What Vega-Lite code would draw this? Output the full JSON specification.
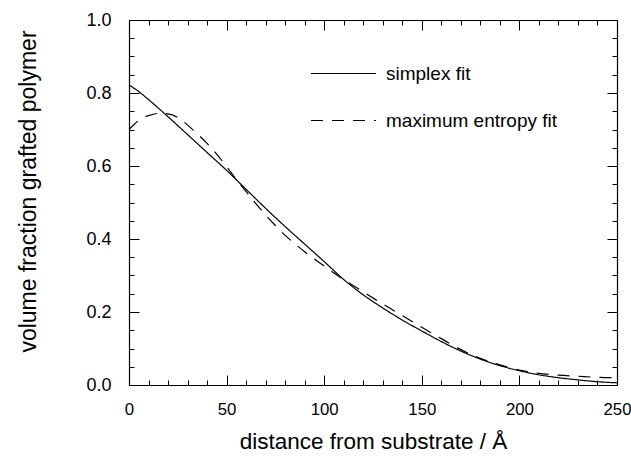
{
  "$schema": "https://vega.github.io/schema/vega-lite/v6.json",
  "width": 488,
  "height": 365,
  "autosize": "none",
  "padding": {"left": 129, "top": 20, "right": 14, "bottom": 71},
  "background": "white",
  "config": {
    "view": {"stroke": null},
    "font": "Liberation Sans",
    "axis": {
      "domainColor": "black",
      "domainWidth": 1.2,
      "tickColor": "black",
      "tickWidth": 1,
      "grid": false,
      "labelColor": "black",
      "labelFontSize": 18,
      "labelFont": "Liberation Sans",
      "titleColor": "black",
      "titleFont": "Liberation Sans",
      "titleFontSize": 22.5,
      "titleFontWeight": "normal"
    }
  },
  "data": {
    "values": [
      {"d": 0, "v": 0.822, "fit": "simplex fit"},
      {"d": 5, "v": 0.804, "fit": "simplex fit"},
      {"d": 10, "v": 0.782, "fit": "simplex fit"},
      {"d": 20, "v": 0.735, "fit": "simplex fit"},
      {"d": 30, "v": 0.686, "fit": "simplex fit"},
      {"d": 40, "v": 0.637, "fit": "simplex fit"},
      {"d": 50, "v": 0.588, "fit": "simplex fit"},
      {"d": 60, "v": 0.536, "fit": "simplex fit"},
      {"d": 70, "v": 0.484, "fit": "simplex fit"},
      {"d": 80, "v": 0.434, "fit": "simplex fit"},
      {"d": 90, "v": 0.386, "fit": "simplex fit"},
      {"d": 100, "v": 0.338, "fit": "simplex fit"},
      {"d": 110, "v": 0.289, "fit": "simplex fit"},
      {"d": 120, "v": 0.247, "fit": "simplex fit"},
      {"d": 130, "v": 0.211, "fit": "simplex fit"},
      {"d": 140, "v": 0.178, "fit": "simplex fit"},
      {"d": 150, "v": 0.148, "fit": "simplex fit"},
      {"d": 160, "v": 0.119, "fit": "simplex fit"},
      {"d": 170, "v": 0.093, "fit": "simplex fit"},
      {"d": 180, "v": 0.071, "fit": "simplex fit"},
      {"d": 190, "v": 0.053, "fit": "simplex fit"},
      {"d": 200, "v": 0.039, "fit": "simplex fit"},
      {"d": 210, "v": 0.028, "fit": "simplex fit"},
      {"d": 220, "v": 0.020, "fit": "simplex fit"},
      {"d": 230, "v": 0.014, "fit": "simplex fit"},
      {"d": 240, "v": 0.009, "fit": "simplex fit"},
      {"d": 250, "v": 0.006, "fit": "simplex fit"},
      {"d": 0, "v": 0.700, "fit": "maximum entropy fit"},
      {"d": 5, "v": 0.725, "fit": "maximum entropy fit"},
      {"d": 10, "v": 0.738, "fit": "maximum entropy fit"},
      {"d": 15, "v": 0.744, "fit": "maximum entropy fit"},
      {"d": 20, "v": 0.743, "fit": "maximum entropy fit"},
      {"d": 25, "v": 0.733, "fit": "maximum entropy fit"},
      {"d": 30, "v": 0.712, "fit": "maximum entropy fit"},
      {"d": 35, "v": 0.688, "fit": "maximum entropy fit"},
      {"d": 40, "v": 0.662, "fit": "maximum entropy fit"},
      {"d": 45, "v": 0.632, "fit": "maximum entropy fit"},
      {"d": 50, "v": 0.598, "fit": "maximum entropy fit"},
      {"d": 55, "v": 0.563, "fit": "maximum entropy fit"},
      {"d": 60, "v": 0.530, "fit": "maximum entropy fit"},
      {"d": 65, "v": 0.497, "fit": "maximum entropy fit"},
      {"d": 70, "v": 0.466, "fit": "maximum entropy fit"},
      {"d": 75, "v": 0.437, "fit": "maximum entropy fit"},
      {"d": 80, "v": 0.410, "fit": "maximum entropy fit"},
      {"d": 85, "v": 0.387, "fit": "maximum entropy fit"},
      {"d": 90, "v": 0.365, "fit": "maximum entropy fit"},
      {"d": 95, "v": 0.345, "fit": "maximum entropy fit"},
      {"d": 100, "v": 0.326, "fit": "maximum entropy fit"},
      {"d": 105, "v": 0.307, "fit": "maximum entropy fit"},
      {"d": 110, "v": 0.289, "fit": "maximum entropy fit"},
      {"d": 115, "v": 0.272, "fit": "maximum entropy fit"},
      {"d": 120, "v": 0.255, "fit": "maximum entropy fit"},
      {"d": 130, "v": 0.222, "fit": "maximum entropy fit"},
      {"d": 140, "v": 0.190, "fit": "maximum entropy fit"},
      {"d": 150, "v": 0.158, "fit": "maximum entropy fit"},
      {"d": 160, "v": 0.127, "fit": "maximum entropy fit"},
      {"d": 170, "v": 0.097, "fit": "maximum entropy fit"},
      {"d": 180, "v": 0.073, "fit": "maximum entropy fit"},
      {"d": 190, "v": 0.055, "fit": "maximum entropy fit"},
      {"d": 200, "v": 0.041, "fit": "maximum entropy fit"},
      {"d": 210, "v": 0.032, "fit": "maximum entropy fit"},
      {"d": 220, "v": 0.027, "fit": "maximum entropy fit"},
      {"d": 230, "v": 0.024, "fit": "maximum entropy fit"},
      {"d": 240, "v": 0.021, "fit": "maximum entropy fit"},
      {"d": 250, "v": 0.020, "fit": "maximum entropy fit"}
    ]
  },
  "layer": [
    {
      "mark": {"type": "line", "color": "black", "strokeWidth": 1.2, "interpolate": "monotone"},
      "encoding": {
        "x": {
          "field": "d", "type": "quantitative",
          "scale": {"domain": [0, 250], "nice": false, "zero": false},
          "axis": {
            "orient": "bottom",
            "title": "distance from substrate / Å",
            "values": [0,10,20,30,40,50,60,70,80,90,100,110,120,130,140,150,160,170,180,190,200,210,220,230,240,250],
            "labelExpr": "datum.value % 50 === 0 ? format(datum.value, 'd') : ''",
            "tickSize": {"condition": {"test": "datum.value % 50 === 0", "value": -10}, "value": -5},
            "labelFontSize": 16.8,
            "labelPadding": 26,
            "labelFlush": false,
            "labelOverlap": false,
            "titleBaseline": "middle",
            "titleY": 56
          }
        },
        "y": {
          "field": "v", "type": "quantitative",
          "scale": {"domain": [0, 1], "nice": false},
          "axis": {
            "orient": "left",
            "title": "volume fraction grafted polymer",
            "values": [0,0.05,0.1,0.15,0.2,0.25,0.3,0.35,0.4,0.45,0.5,0.55,0.6,0.65,0.7,0.75,0.8,0.85,0.9,0.95,1.0],
            "labelExpr": "abs(datum.value*5 - round(datum.value*5)) < 0.000001 ? format(datum.value, '.1f') : ''",
            "tickSize": {"condition": {"test": "abs(datum.value*5 - round(datum.value*5)) < 0.000001", "value": -10}, "value": -5},
            "labelPadding": 28,
            "labelFlush": false,
            "labelOverlap": false,
            "titleAngle": -90,
            "titleFontSize": 23,
            "titleBaseline": "middle",
            "titleAlign": "center",
            "titleX": -101,
            "titleY": 171
          }
        },
        "strokeDash": {
          "field": "fit", "type": "nominal",
          "scale": {"domain": ["simplex fit", "maximum entropy fit"], "range": [[1, 0], [12, 9]]},
          "legend": {
            "orient": "none",
            "legendX": 181,
            "legendY": 20,
            "title": null,
            "padding": 0,
            "symbolType": "stroke",
            "symbolSize": 4225,
            "symbolStrokeColor": "black",
            "symbolStrokeWidth": 1.2,
            "labelFontSize": 19,
            "labelColor": "black",
            "labelFont": "Liberation Sans",
            "labelLimit": 400,
            "labelOffset": 9,
            "rowPadding": 3
          }
        }
      }
    },
    {
      "mark": {"type": "line", "opacity": 0},
      "encoding": {
        "x": {
          "field": "d", "type": "quantitative",
          "scale": {"domain": [0, 250], "nice": false, "zero": false},
          "axis": {
            "orient": "top",
            "title": null,
            "values": [0,10,20,30,40,50,60,70,80,90,100,110,120,130,140,150,160,170,180,190,200,210,220,230,240,250],
            "labels": false,
            "tickSize": {"condition": {"test": "datum.value % 50 === 0", "value": -10}, "value": -5}
          }
        },
        "y": {
          "field": "v", "type": "quantitative",
          "scale": {"domain": [0, 1], "nice": false},
          "axis": {
            "orient": "right",
            "title": null,
            "values": [0,0.05,0.1,0.15,0.2,0.25,0.3,0.35,0.4,0.45,0.5,0.55,0.6,0.65,0.7,0.75,0.8,0.85,0.9,0.95,1.0],
            "labels": false,
            "tickSize": {"condition": {"test": "abs(datum.value*5 - round(datum.value*5)) < 0.000001", "value": -10}, "value": -5}
          }
        },
        "detail": {"field": "fit", "type": "nominal"}
      }
    }
  ],
  "resolve": {"axis": {"x": "independent", "y": "independent"}}
}
